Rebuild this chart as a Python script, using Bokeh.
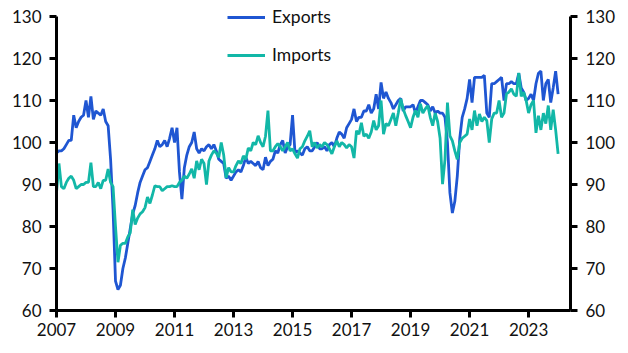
from bokeh.plotting import figure
from bokeh.models import (ColumnDataSource, LinearAxis, Range1d, FixedTicker,
                          Legend, LegendItem, CustomJSTickFormatter)
from bokeh.embed import file_html
from bokeh.resources import INLINE

# Monthly index values, Jan 2007 .. Jan 2024
exports = [
    97.5, 98, 98, 98.5, 99.5, 100.5, 100.5, 106.5, 103.5, 105, 106, 106.5,      # 2007
    110, 106, 111, 105.5, 107.5, 107, 106.5, 108, 105, 104, 96, 84,            # 2008
    67, 65, 66, 70, 72.5, 76, 79.5, 83, 85, 88, 90.5, 92,                       # 2009
    93.5, 94, 95.5, 97, 98.5, 100.5, 99, 99.5, 100.5, 99, 101, 103.5,           # 2010
    100, 103.5, 93, 86.5, 94, 97, 99, 100, 102.5, 98.5, 97.5, 98.5,             # 2011
    98, 99, 99.5, 98.5, 99.5, 98, 96, 95.5, 95, 91.5, 92, 91,                   # 2012
    92, 93, 93.5, 93, 94.5, 96.5, 95, 95.5, 95, 94.5, 95.5, 94,                 # 2013
    93.5, 96.5, 94.5, 95.5, 96, 98, 97.5, 99.5, 100.5, 97.5, 99, 99.5,          # 2014
    106.5, 97.5, 98, 97.5, 97, 98.5, 99, 98, 98, 99, 100, 98.5,                 # 2015
    98.5, 99, 98, 99.5, 100, 99, 101, 102.5, 102, 101, 103.5, 104.5,            # 2016
    105.5, 108, 105, 106, 106, 107.5, 107.5, 109, 107, 108, 111.5, 108,         # 2017
    114.3, 110.5, 112, 110.5, 109.5, 108, 109, 110, 110.5, 107.5, 108.5, 108.5, # 2018
    108.5, 109, 107, 108.5, 110, 110, 109.5, 109, 107.5, 108.5, 107, 107.5,     # 2019
    107, 107, 106, 100, 88, 83.2, 86, 92, 101, 106, 108, 110.5,                 # 2020
    115, 109.5, 115.5, 115.5, 115.5, 115.5, 116, 107, 106, 114, 114, 114.5,     # 2021
    115, 115.5, 110, 114, 114, 114.5, 114, 114, 116.5, 113, 112, 110,           # 2022
    110.5, 111.5, 110, 114, 116.5, 117, 110, 114, 115, 109.5, 113, 117,         # 2023
    111.5,                                                                      # 2024
]
imports = [
    88, 95, 89.5, 89, 90.5, 91.5, 92, 91, 89, 89.5, 90, 90,                     # 2007
    90.5, 90.5, 95.2, 89.5, 89.5, 90.5, 89, 91, 91, 93.7, 90.5, 89.5,           # 2008
    80, 71.5, 75.5, 76, 76, 77.5, 78.5, 84, 80.5, 82, 83, 83.5,                 # 2009
    84.5, 87, 85.5, 87.5, 89.7, 89.5, 89.5, 88.5, 89, 89.5, 89.5, 89.7,         # 2010
    89.5, 89.5, 90.5, 91, 92, 91.5, 92.5, 93.7, 91.5, 95.6, 93.5, 96,           # 2011
    95, 90, 95.6, 97, 98, 97.5, 96.5, 100, 97, 91.6, 94, 93,                    # 2012
    93, 94.5, 95.6, 95, 96.8, 96, 98.7, 98, 100, 99.5, 101.6, 100,              # 2013
    99, 101.5, 107.6, 98, 98, 99, 99.7, 99, 98, 99, 100, 98,                    # 2014
    98.5, 97.3, 96.3, 98.5, 99, 100.4, 101.5, 102.8, 99, 100, 98.7, 99.5,       # 2015
    99, 100, 99.5, 98.5, 97.3, 99, 100.4, 99, 100, 99.5, 98.7, 99.5,            # 2016
    99, 96.3, 102.8, 102, 104.7, 101.5, 102, 101, 102.5, 105.2, 103, 104,       # 2017
    110, 102, 104.5, 104, 105.5, 107, 104, 107, 110.4, 108, 106.4, 105,         # 2018
    103.5, 106, 107.6, 106, 109.2, 107, 108, 108.8, 106, 104, 107, 105,         # 2019
    101, 90.1, 96, 109.5, 101.6, 100.4, 98, 96, 100, 101, 101.5, 102,           # 2020
    105.6, 103, 107.6, 104, 106.8, 105, 106, 105.2, 100, 105.6, 107, 107,       # 2021
    110, 106, 107, 111.6, 112, 112.8, 111.5, 111, 116.6, 111, 112, 110,         # 2022
    107, 109, 110, 102.3, 106.4, 103, 107, 104.5, 108.8, 103, 107.8, 103,       # 2023
    97.3,                                                                       # 2024
]
start_year = 2007
x_ticks = [2007, 2009, 2011, 2013, 2015, 2017, 2019, 2021, 2023]
y_ticks = [60, 70, 80, 90, 100, 110, 120, 130]
series_names = ["Exports", "Imports"]
series_colors = ["#1f56d2", "#12b7a7"]

t = [start_year + i / 12 for i in range(len(exports))]
src = ColumnDataSource(dict(t=t, exports=exports, imports=imports))

FONT = "Lato"
TXT = "#111111"

# frame spans the full top so the legend is not clipped; axes are bounded to 60-130
p = figure(width=628, height=353, output_backend="svg", toolbar_location=None,
           x_range=Range1d(2007, 2024.42), y_range=Range1d(60, 133.81),
           min_border_left=56, min_border_right=58, min_border_top=0,
           min_border_bottom=43, y_axis_location=None)
p.outline_line_color = None
p.xgrid.grid_line_color = None
p.ygrid.grid_line_color = None
p.background_fill_color = "white"
p.border_fill_color = "white"

r_exp = p.line("t", "exports", source=src, line_color=series_colors[0], line_width=2.8)
r_imp = p.line("t", "imports", source=src, line_color=series_colors[1], line_width=2.8)

def style_axis(ax):
    ax.axis_line_width = 3
    ax.axis_line_color = "black"
    ax.major_tick_line_width = 3
    ax.major_tick_line_color = "black"
    ax.major_tick_out = 7
    ax.major_tick_in = 0
    ax.minor_tick_line_color = None
    ax.major_label_text_font = FONT
    ax.major_label_text_font_size = "17px"
    ax.major_label_text_color = TXT

style_axis(p.xaxis[0])
p.xaxis[0].ticker = FixedTicker(ticks=x_ticks)
p.xaxis[0].formatter = CustomJSTickFormatter(code="return tick.toFixed(0);")
p.xaxis[0].major_label_standoff = 5

left = LinearAxis(ticker=FixedTicker(ticks=y_ticks), bounds=(60, 130))
right = LinearAxis(ticker=FixedTicker(ticks=y_ticks), bounds=(60, 130))
for ax in (left, right):
    style_axis(ax)
    ax.major_label_standoff = 8
p.add_layout(left, "left")
p.add_layout(right, "right")

legend = Legend(items=[LegendItem(label=series_names[0], renderers=[r_exp]),
                       LegendItem(label=series_names[1], renderers=[r_imp])],
                location=(171, 245), orientation="vertical")
legend.padding = 0
legend.margin = 0
legend.spacing = 17
legend.glyph_width = 38
legend.glyph_height = 20
legend.label_height = 20
legend.label_standoff = 7
legend.label_text_font = FONT
legend.label_text_font_size = "17.5px"
legend.label_text_color = TXT
legend.border_line_color = None
legend.background_fill_alpha = 0
p.add_layout(legend, "center")

open("out.html", "w").write(file_html(p, INLINE))
